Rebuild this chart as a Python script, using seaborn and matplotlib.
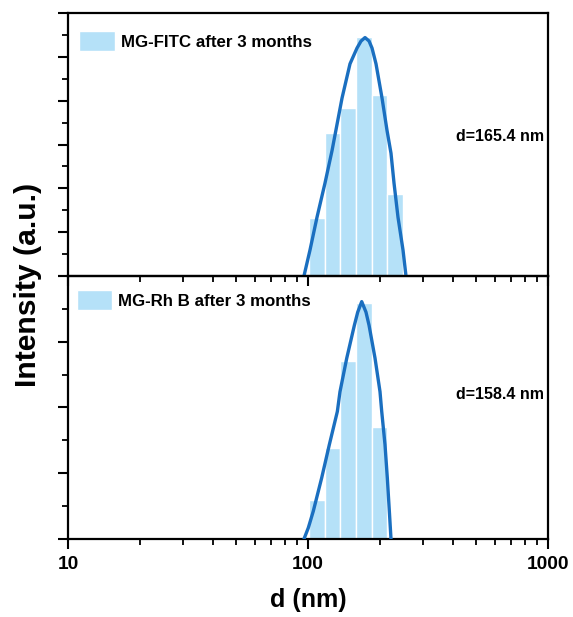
import numpy as np
import matplotlib
matplotlib.use("Agg")
import matplotlib.pyplot as plt
import seaborn as sns
from matplotlib.ticker import MultipleLocator, LogLocator, NullFormatter, FixedLocator, FixedFormatter

# size bins (nm) shared by both samples
bin_edges = [101.0, 117.3, 136.4, 158.5, 184.2, 214.1, 248.9]

# bar heights (intensity %)
fitc_bars = [6.6, 16.3, 19.2, 27.3, 20.6, 9.4]
rhb_bars = [5.9, 13.8, 27.0, 35.9, 17.0]

# fitted curves
fitc_curve_d = [96.2, 101.9, 109.0, 117.7, 125.9, 138.6, 149.6, 160.0, 166.3, 172.8,
                179.6, 184.8, 192.0, 203.4, 213.4, 221.7, 228.2, 237.1, 248.8, 256.0]
fitc_curve_i = [0.0, 2.95, 6.7, 10.6, 14.3, 20.3, 24.2, 26.0, 26.8, 27.2,
                26.8, 26.0, 24.2, 20.3, 16.6, 14.0, 10.6, 6.7, 2.95, 0.0]

rhb_curve_d = [96.2, 100.3, 105.2, 114.0, 122.7, 132.5, 135.9, 145.0, 156.0, 161.1,
               167.4, 174.4, 179.6, 190.2, 199.5, 202.8, 209.3, 214.0, 218.2, 221.7]
rhb_curve_i = [0.0, 1.71, 4.24, 9.29, 14.35, 19.39, 22.4, 27.5, 32.5, 34.5,
               36.1, 34.5, 32.5, 27.5, 22.4, 19.4, 14.35, 9.29, 4.24, 0.0]

labels = ["MG-FITC after 3 months", "MG-Rh B after 3 months"]
sizes = ["d=165.4 nm", "d=158.4 nm"]
x_ticks = [10, 100, 1000]

bar_color = "#b5e1f8"
line_color = "#1a6fc0"

sns.set_theme(style="ticks")
plt.rcParams["font.family"] = ["Liberation Sans", "DejaVu Sans"]
plt.rcParams["font.weight"] = "bold"
for k in ["text.color", "axes.labelcolor", "xtick.color", "ytick.color", "axes.edgecolor"]:
    plt.rcParams[k] = "black"

fig = plt.figure(figsize=(5.73, 6.17), dpi=100)
ax1 = fig.add_axes([0.1187, 0.5527, 0.8377, 0.4262])
ax2 = fig.add_axes([0.1187, 0.1264, 0.8377, 0.4263])
ax2.patch.set_visible(False)

edges = np.array(bin_edges)
panels = [
    (ax1, fitc_bars, fitc_curve_d, fitc_curve_i, labels[0], 30, 5, (0.023, 0.93)),
    (ax2, rhb_bars, rhb_curve_d, rhb_curve_i, labels[1], 40, 10, (0.018, 0.945)),
]

for ax, bars, cd, ci, lab, ymax, step, anchor in panels:
    n = len(bars)
    ax.bar(edges[:n], bars, width=np.diff(edges)[:n], align="edge",
           color=bar_color, edgecolor="white", linewidth=1.0, label=lab, zorder=2)
    sns.lineplot(x=cd, y=ci, ax=ax, color=line_color, linewidth=2.4, zorder=3)
    ax.set_xscale("log")
    ax.set_xlim(10, 1000)
    ax.set_ylim(0, ymax)
    ax.yaxis.set_major_locator(MultipleLocator(step))
    ax.yaxis.set_minor_locator(MultipleLocator(step / 2))
    ax.tick_params(axis="y", which="major", length=7, width=1.5, direction="out", labelleft=False)
    ax.tick_params(axis="y", which="minor", length=4, width=1.3, direction="out")
    ax.xaxis.set_major_locator(FixedLocator(x_ticks))
    ax.xaxis.set_minor_locator(LogLocator(base=10, subs=np.arange(2, 10)))
    ax.xaxis.set_minor_formatter(NullFormatter())
    ax.tick_params(axis="x", which="major", length=7, width=1.5, direction="out")
    ax.tick_params(axis="x", which="minor", length=4, width=1.3, direction="out")
    for sp in ax.spines.values():
        sp.set_linewidth(1.6)
        sp.set_color("black")
        sp.set_visible(True)
    ax.set_xlabel("")
    ax.set_ylabel("")
    ax.legend(loc="upper left", bbox_to_anchor=anchor, frameon=False,
              handlelength=2.1, handleheight=1.4, handletextpad=0.35,
              borderpad=0.0, borderaxespad=0.0, prop={"weight": "bold", "size": 12.2})
    ax.grid(False)

ax1.tick_params(axis="x", labelbottom=False)
ax1.text(0.808, 0.529, sizes[0], transform=ax1.transAxes, fontsize=11.5,
         fontweight="bold", va="center", ha="left")
ax2.text(0.808, 0.551, sizes[1], transform=ax2.transAxes, fontsize=11.5,
         fontweight="bold", va="center", ha="left")

ax2.xaxis.set_major_formatter(FixedFormatter([str(t) for t in x_ticks]))
ax2.tick_params(axis="x", which="major", labelsize=13.8, pad=5)
for t in ax2.get_xticklabels():
    t.set_fontweight("bold")
ax2.set_xlabel("d (nm)", fontsize=18, fontweight="bold", labelpad=11)

fig.text(0.049, 0.538, "Intensity (a.u.)", rotation=90, fontsize=21.7,
         fontweight="bold", va="center", ha="center")

fig.savefig("out.png", dpi=100)
